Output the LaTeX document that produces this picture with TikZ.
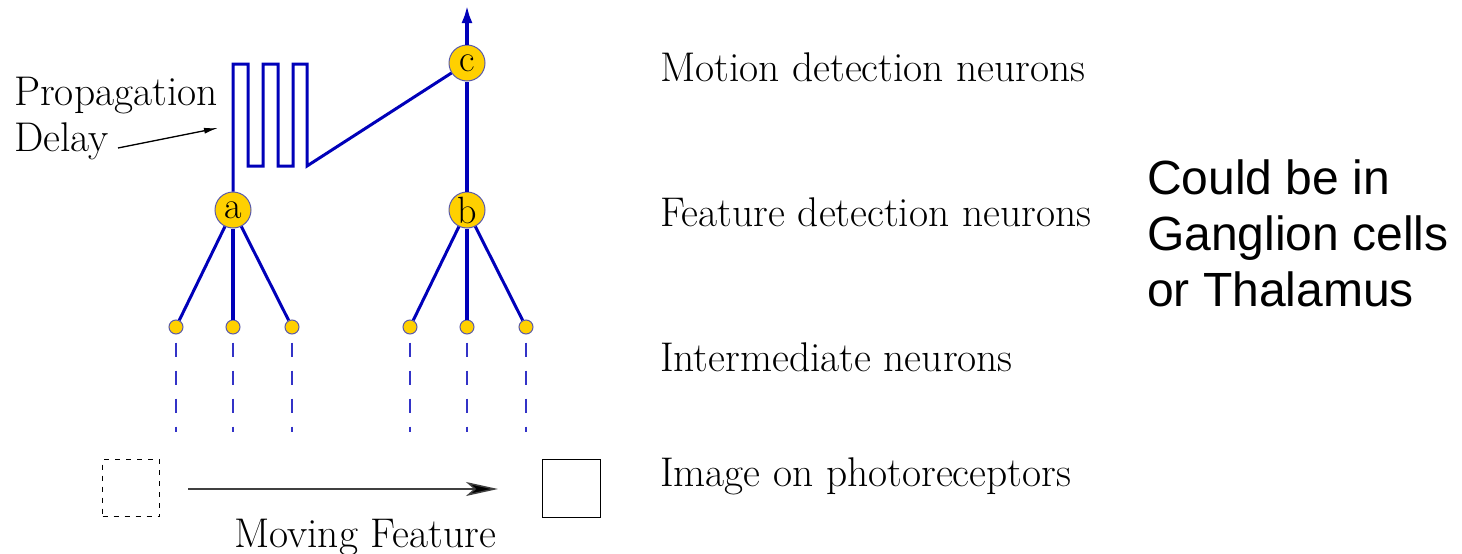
\documentclass[tikz,border=0pt]{standalone}
\usepackage{fontspec}
\newfontfamily\arialfont{Liberation Sans}
\usetikzlibrary{arrows.meta}
\definecolor{nblue}{RGB}{0,0,185}
\definecolor{ngold}{RGB}{255,208,0}
\definecolor{nedge}{RGB}{90,90,170}
\tikzset{
  big/.style={circle,fill=ngold,draw=nedge,line width=1pt,minimum size=36pt,inner sep=0pt,font=\fontsize{38}{40}\selectfont},
  small/.style={circle,fill=ngold,draw=nedge,line width=1pt,minimum size=14pt,inner sep=0pt},
  wire/.style={nblue,line width=3pt},
  fatwire/.style={nblue,line width=4.5pt},
  dwire/.style={nblue!80,line width=1.3pt,dash pattern=on 14pt off 14pt},
  lbl/.style={anchor=west,inner sep=0pt,font=\fontsize{41.5}{44}\selectfont}
}
\begin{document}
\begin{tikzpicture}[x=1pt,y=-1pt]
\useasboundingbox (0,0) rectangle (1462,554);
% neurons
\node[big] (c) at (467,63) {c};
\node[big] (a) at (233,210) {a};
\node[big] (b) at (467,210) {b};
\foreach \n/\x in {a1/176,a2/233,a3/292,b1/410,b2/467,b3/526}{
  \node[small] (\n) at (\x,327) {};
  \coordinate (\n e) at (\x,432);
  \draw[dwire] (\n.south) ++(0,8) -- (\n e);
}
% connectors
\draw[wire] (a) -- (a1);
\draw[fatwire] (a) -- (a2);
\draw[wire] (a) -- (a3);
\draw[wire] (b) -- (b1);
\draw[fatwire] (b) -- (b2);
\draw[wire] (b) -- (b3);
\draw[fatwire] (b) -- (c);
\coordinate (top) at (467,5);
\draw[fatwire,-{Latex[length=18pt,width=11pt]}] (c) -- (top);
% delay line
\draw[wire,line join=miter] (a.north) -- (233,64) -- (248,64) -- (248,166) -- (263,166) -- (263,64) -- (278,64)
  -- (278,166) -- (293,166) -- (293,64) -- (307,64) -- (307,166) -- (c);
% propagation label
\node[inner sep=0pt,anchor=west,align=left,font=\fontsize{41.5}{46}\selectfont] (pd) at (14,119) {Propagation\\Delay};
\coordinate (pdtip) at (218,128);
\coordinate (pdtail) at (118,148);
\draw[line width=1.3pt,-{Latex[length=14pt,width=6pt]}] (pdtail) -- (pdtip);
% photoreceptor image
\node[draw,dash pattern=on 5pt off 6pt,line width=1pt,minimum size=57pt,inner sep=0pt] (old) at (131,488) {};
\node[draw,line width=1pt,minimum size=58pt,inner sep=0pt] (new) at (571,488) {};
\coordinate (mvA) at (188,489);
\coordinate (mvB) at (498,489);
\draw[line width=1.5pt,black!75,-{Stealth[length=32pt,width=14pt,inset=8pt,fill=black]}] (mvA) -- (mvB);
\node[font=\fontsize{41.5}{44}\selectfont,inner sep=0pt] (mf) at (365,538) {Moving Feature};
% level labels
\node[lbl] (l1) at (660,67) {Motion detection neurons};
\node[lbl] (l2) at (660,212) {Feature detection neurons};
\node[lbl] (l3) at (660,357) {Intermediate neurons};
\node[lbl] (l4) at (660,476) {Image on photoreceptors};
% side note
\node[anchor=north west,inner sep=0pt,align=left,font=\arialfont\fontsize{48}{56}\selectfont] (note) at (1147,160) {Could be in\\Ganglion cells\\or Thalamus};
\end{tikzpicture}
\end{document}
